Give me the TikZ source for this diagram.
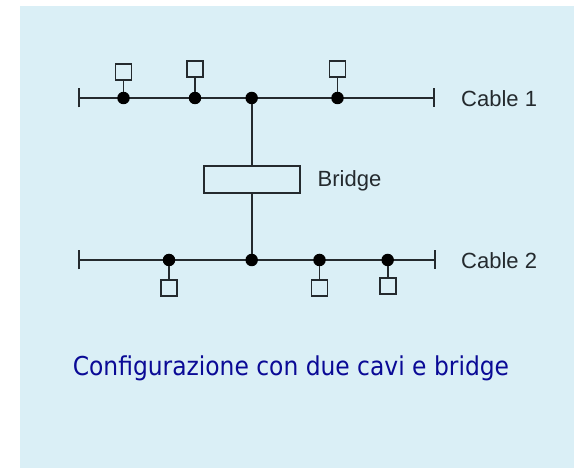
\documentclass[tikz,border=0pt]{standalone}
\usepackage{fontspec}
\setmainfont{Liberation Sans}
\newfontfamily\captionfont{DejaVu Sans Condensed}
\usepackage{tikz}
\usetikzlibrary{arrows.meta, positioning}
\definecolor{panelblue}{RGB}{218, 239, 246}
\definecolor{wireink}{RGB}{36, 42, 46}
\definecolor{captionblue}{RGB}{10, 10, 150}
\tikzset{
  cable/.style={draw=wireink, line width=2.2pt, {Bar[width=19pt, line width=2.2pt]}-{Bar[width=19pt, line width=2.2pt]}},
  tap/.style={circle, fill=black, inner sep=0pt, minimum size=12.5pt},
  station/.style={draw=wireink, line width=1.7pt, inner sep=0pt, minimum size=16pt},
  stub/.style={draw=wireink, line width=1.8pt},
  label/.style={text=wireink, inner sep=0pt, anchor=west, font=\fontsize{22}{26}\selectfont}
}

\begin{document}
\begin{tikzpicture}[x=1pt, y=-1pt]
  \useasboundingbox (0, 0) rectangle (574, 468);
  \fill[white] (0, 0) rectangle (574, 468);
  \fill[panelblue] (20, 6) rectangle (574, 468);

  % Cable 1
  \coordinate (c1w) at (77.5, 98);
  \coordinate (c1e) at (435, 98);
  \draw[cable] (c1w) -- (c1e);
  \node[tap] (t1a) at (123.5, 98) {};
  \node[tap] (t1b) at (195, 98) {};
  \node[tap] (t1m) at (251.7, 98) {};
  \node[tap] (t1c) at (337.5, 98) {};
  \node[station] (s1a) at (123.5, 72.3) {};
  \node[station] (s1b) at (195, 69) {};
  \node[station] (s1c) at (337.5, 68.7) {};
  \draw[stub] (s1a) -- (t1a);
  \draw[stub] (s1b) -- (t1b);
  \draw[stub] (s1c) -- (t1c);
  \node[label] (cab1) at (461, 99) {Cable 1};

  % Bridge
  \node[draw=wireink, line width=1.7pt, minimum width=96pt, minimum height=27pt, inner sep=0pt] (bridge) at (251.7, 179.7) {};
  \node[label] (brl) at (317.5, 181) {Bridge};

  % Cable 2
  \coordinate (c2w) at (77.5, 260);
  \coordinate (c2e) at (436, 260);
  \draw[cable] (c2w) -- (c2e);
  \node[tap] (t2a) at (169, 260) {};
  \node[tap] (t2m) at (251.7, 260) {};
  \node[tap] (t2b) at (319.5, 260) {};
  \node[tap] (t2c) at (387.7, 260) {};
  \node[station] (s2a) at (169, 288.3) {};
  \node[station] (s2b) at (319.5, 288) {};
  \node[station] (s2c) at (387.7, 286) {};
  \draw[stub] (t2a) -- (s2a);
  \draw[stub] (t2b) -- (s2b);
  \draw[stub] (t2c) -- (s2c);
  \node[label] (cab2) at (461, 261) {Cable 2};

  % bridge links the two cables
  \draw[stub] (t1m) -- (bridge) -- (t2m);

  % caption
  \node[anchor=base, inner sep=0pt, text=captionblue, font=\captionfont\fontsize{26}{30}\selectfont] (cap) at (291, 375) {Configurazione con due cavi e bridge};
\end{tikzpicture}
\end{document}
